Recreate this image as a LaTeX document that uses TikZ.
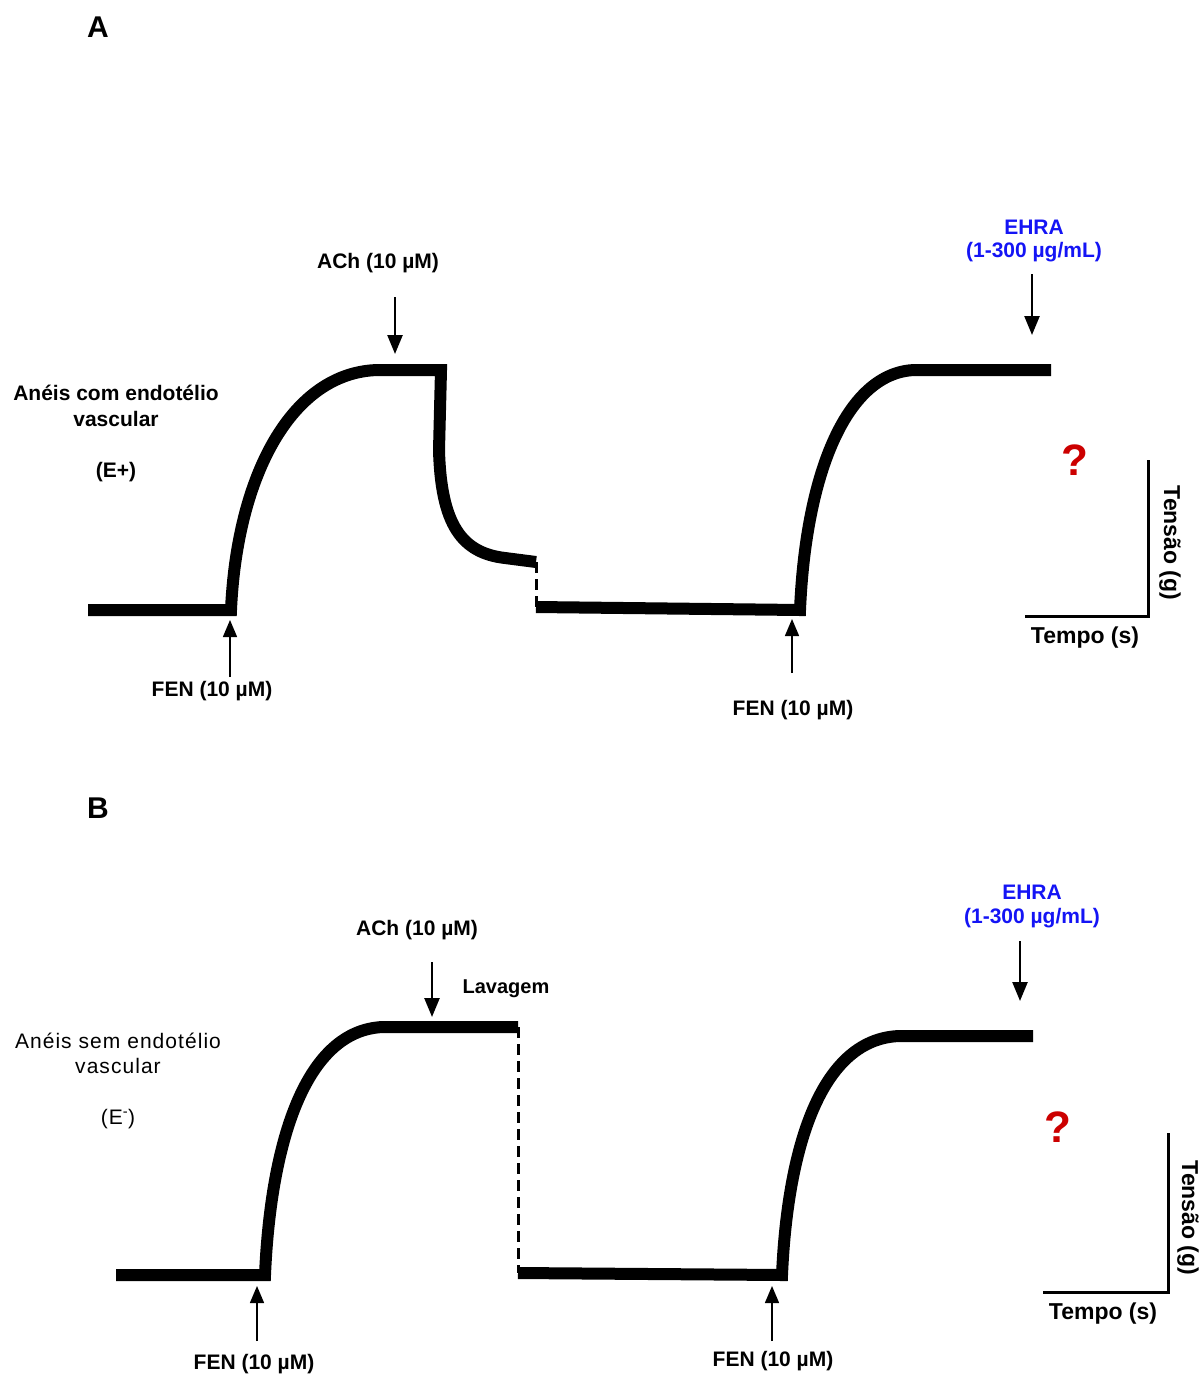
\documentclass[tikz,border=0pt]{standalone}
\usepackage{fontspec}
\setmainfont{Liberation Sans}
\usetikzlibrary{arrows.meta}
\definecolor{ehrablue}{RGB}{20,20,245}
\definecolor{qred}{RGB}{204,0,0}
\tikzset{
  trace/.style={line width=12pt, line join=miter, line cap=butt},
  washline/.style={line width=3pt, dash pattern=on 11pt off 6pt},
  thinarrow/.style={line width=1.5pt, -{Triangle[width=14pt,length=17pt]}},
  thickarrow/.style={line width=2.5pt, -{Triangle[width=15pt,length=19pt]}},
  axisline/.style={line width=3pt, line join=miter},
  lbl/.style={inner sep=0pt, font=\fontsize{21pt}{25pt}\selectfont\bfseries},
  lblreg/.style={inner sep=0pt, font=\fontsize{21pt}{25pt}\selectfont\addfontfeature{LetterSpace=5}},
  axlbl/.style={inner sep=0pt, font=\fontsize{23pt}{27pt}\selectfont\bfseries},
  panel/.style={inner sep=0pt, font=\fontsize{30pt}{34pt}\selectfont\bfseries},
  blue lbl/.style={lbl, text=ehrablue},
  qmark/.style={inner sep=0pt, text=qred, font=\fontsize{44pt}{48pt}\selectfont\bfseries}
}
\begin{document}
\begin{tikzpicture}[x=1pt,y=-1pt]
\useasboundingbox (0,0) rectangle (1202,1376);

% ================= Panel A =================
\node[panel] (pA) at (98,27) {A};
\node[lbl] (condA1) at (116,393) {Anéis com endotélio};
\node[lbl] (condA2) at (116,419) {vascular};
\node[lbl] (condA3) at (116,472) {(E+)};

% trace A
\coordinate (a0) at (88,610);
\coordinate (a1) at (231,610);
\coordinate (a2) at (378,370);
\coordinate (a3) at (441,370);
\coordinate (a4) at (536,562);
\coordinate (a5) at (536,607);
\coordinate (a6) at (800,610);
\coordinate (a7) at (915,370);
\coordinate (a8) at (1051,370);
\draw[trace] (a0) -- (a1) .. controls (237,475) and (292,372) .. (a2) -- (a3)
   -- (439,450) .. controls (441,525) and (462,553) .. (505,558) -- (a4);
\draw[washline] (a4) -- (a5);
\draw[trace] (a5) -- (a6) .. controls (806,470) and (848,372) .. (a7) -- (a8);

% ACh arrow A
\node[lbl] (achA) at (378,263) {ACh (10 µM)};
\coordinate (achAs) at (395,297);
\coordinate (achAt) at (395,354);
\draw[thickarrow] (achAs) -- (achAt);

% FEN arrows A
\node[lbl] (fenA1) at (212,691) {FEN (10 µM)};
\coordinate (fenA1s) at (230,677);
\coordinate (fenA1t) at (230,620);
\draw[thinarrow] (fenA1s) -- (fenA1t);
\node[lbl] (fenA2) at (793,710) {FEN (10 µM)};
\coordinate (fenA2s) at (792,673);
\coordinate (fenA2t) at (792,619);
\draw[thinarrow] (fenA2s) -- (fenA2t);

% EHRA A
\node[blue lbl] (ehraA1) at (1034,227) {EHRA};
\node[blue lbl] (ehraA2) at (1034,252) {(1-300 µg/mL)};
\coordinate (ehraAs) at (1032,274);
\coordinate (ehraAt) at (1032,335);
\draw[thickarrow] (ehraAs) -- (ehraAt);
\node[qmark] (qA) at (1075,460) {?};

% scale bar A
\coordinate (axA0) at (1148,460);
\coordinate (axA1) at (1148,616);
\coordinate (axA2) at (1025,616);
\draw[axisline] (axA0) -- (axA1) -- (axA2);
\node[axlbl] (tempoA) at (1085,638) {Tempo (s)};
\node[axlbl, rotate=-90] (tensaoA) at (1170,543) {Tensão (g)};

% ================= Panel B =================
\node[panel] (pB) at (98,808) {B};
\node[lblreg] (condB1) at (118,1041) {Anéis sem endotélio};
\node[lblreg] (condB2) at (118,1066) {vascular};
\node[lblreg] (condB3) at (118,1119) {(E\textsuperscript{-})};

% trace B
\coordinate (b0) at (116,1275);
\coordinate (b1) at (265,1275);
\coordinate (b2) at (383,1027);
\coordinate (b3) at (518,1027);
\coordinate (b4) at (518,1273);
\coordinate (b5) at (782,1275);
\coordinate (b6) at (900,1036);
\coordinate (b7) at (1033,1036);
\draw[trace] (b0) -- (b1) .. controls (271,1138) and (307,1030) .. (b2) -- (b3);
\draw[washline] (b3) -- (b4);
\draw[trace] (b4) -- (b5) .. controls (788,1140) and (824,1038) .. (b6) -- (b7);

% ACh arrow B
\node[lbl] (achB) at (417,930) {ACh (10 µM)};
\coordinate (achBs) at (432,962);
\coordinate (achBt) at (432,1017);
\draw[thickarrow] (achBs) -- (achBt);
\node[lbl, font=\fontsize{20pt}{24pt}\selectfont\bfseries] (lav) at (506,989) {Lavagem};

% FEN arrows B
\node[lbl] (fenB1) at (254,1364) {FEN (10 µM)};
\coordinate (fenB1s) at (257,1341);
\coordinate (fenB1t) at (257,1286);
\draw[thinarrow] (fenB1s) -- (fenB1t);
\node[lbl] (fenB2) at (773,1361) {FEN (10 µM)};
\coordinate (fenB2s) at (772,1341);
\coordinate (fenB2t) at (772,1286);
\draw[thinarrow] (fenB2s) -- (fenB2t);

% EHRA B
\node[blue lbl] (ehraB1) at (1032,892) {EHRA};
\node[blue lbl] (ehraB2) at (1032,918) {(1-300 µg/mL)};
\coordinate (ehraBs) at (1020,941);
\coordinate (ehraBt) at (1020,1001);
\draw[thickarrow] (ehraBs) -- (ehraBt);
\node[qmark] (qB) at (1058,1127) {?};

% scale bar B
\coordinate (axB0) at (1168,1133);
\coordinate (axB1) at (1168,1292);
\coordinate (axB2) at (1043,1292);
\draw[axisline] (axB0) -- (axB1) -- (axB2);
\node[axlbl] (tempoB) at (1103,1314) {Tempo (s)};
\node[axlbl, rotate=-90] (tensaoB) at (1188,1218) {Tensão (g)};
\end{tikzpicture}
\end{document}
